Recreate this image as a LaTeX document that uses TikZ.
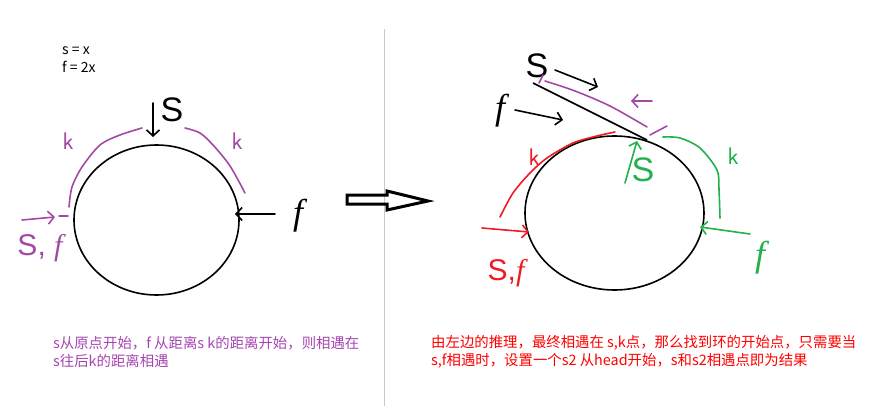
\documentclass[tikz,border=0pt]{standalone}
\usepackage{fontspec}
\setmainfont{Noto Sans CJK SC}
\newfontfamily\handfont{Liberation Sans}
\newfontfamily\curvefont{Liberation Serif}
\usetikzlibrary{shapes.geometric,arrows.meta}
\definecolor{penpurple}{HTML}{A349A4}
\definecolor{penred}{HTML}{ED1C24}
\definecolor{pengreen}{HTML}{22B14C}
\definecolor{notepurple}{HTML}{A545B0}
\definecolor{notered}{HTML}{FF0000}
\definecolor{rulegray}{HTML}{C8C8C8}
\newcommand{\handf}{{\curvefont\itshape f}}
\begin{document}
\begin{tikzpicture}[x=1pt,y=-1pt,
  pen/.style={line width=1.6pt,line cap=round,line join=round},
  barb/.style={-{Straight Barb[length=6pt,width=13pt]}},
  ring/.style={draw,ellipse,line width=1.6pt,inner sep=0pt},
  bigS/.style={font=\handfont\fontsize{34}{34}\selectfont,inner sep=0pt},
  bigf/.style={font=\fontsize{36}{36}\selectfont,inner sep=0pt},
  kmark/.style={font=\sffamily\fontsize{24}{24}\selectfont,inner sep=0pt}]
\useasboundingbox (0,0) rectangle (881,417);
\small
\path[draw,rulegray,line width=1pt] (384,29) -- (384,406);

% left picture
\node[anchor=north west,align=left,inner sep=0pt,font=\fontsize{14}{18}\selectfont] (rule) at (62,47) {s = x\\f = 2x};
\node[ring,minimum width=165,minimum height=150] (loopL) at (156.5,220) {};
\node[bigS] (sL) at (172,110) {S};
\node[bigf] (fL) at (298,216) {\handf};
\node[kmark,penpurple] (k1) at (68,141) {k};
\node[kmark,penpurple] (k2) at (237,141) {k};
\node[penpurple,font=\handfont\fontsize{30}{30}\selectfont,inner sep=0pt] (sfL) at (40,248) {S, \handf};
\coordinate (sTop) at (153,103);
\coordinate (sHit) at (153,137);
\coordinate (fTail) at (275,214);
\coordinate (fHit) at (235,214);
\coordinate (sfTail) at (22,220);
\coordinate (sfHit) at (55,217);

\path[draw,pen,barb] (sTop) -- (sHit);
\path[draw,pen,barb] (fTail) -- (fHit);
\path[draw,pen,barb,penpurple] (sfTail) -- (sfHit);
\path[draw,pen,penpurple] (59,216) -- (68,216);
\path[draw,pen,penpurple] plot[smooth] coordinates {(69,207) (72,187) (82,167) (100,145) (120,135) (142,128)};
\path[draw,pen,penpurple] plot[smooth] coordinates {(185,128) (200,133) (213,145) (228,163) (237,178) (245,193)};

% arrow between
\path[draw,line width=3pt,line join=miter] (347,195) -- (387,195) -- (387,191) -- (428,201) -- (387,210) -- (387,204) -- (347,204) -- cycle;

% right picture
\node[ring,minimum width=179,minimum height=154] (loopR) at (614.5,213) {};
\node[bigS] (sR) at (537,66) {S};
\node[bigf] (fR) at (500,111) {\handf};
\node[kmark,penred] (k3) at (534,157) {k};
\node[kmark,pengreen] (k4) at (733,156) {k};
\node[bigS,pengreen] (s2) at (643,170) {S};
\node[bigf,pengreen] (f2) at (760,258) {\handf};
\node[penred,font=\handfont\fontsize{30}{30}\selectfont,inner sep=0pt] (sfR) at (506,273) {S,\handf};
\coordinate (head) at (533,83);
\coordinate (entry) at (647,140);
\coordinate (sGo) at (555,70);
\coordinate (sTo) at (598,87);
\coordinate (fGo) at (515,110);
\coordinate (fTo) at (563,120);
\coordinate (kBack) at (652,101);
\coordinate (kTip) at (631,101);
\coordinate (sUp) at (625,183);
\coordinate (sIn) at (637,141);
\coordinate (redTail) at (482,228);
\coordinate (redHit) at (529,232);
\coordinate (greenTail) at (750,234);
\coordinate (greenHit) at (700,227);

\path[draw,line width=1.6pt] (head) -- (entry);
\path[draw,pen,barb] (sGo) -- (sTo);
\path[draw,pen,barb] (fGo) -- (fTo);
\path[draw,pen,barb,penpurple] (kBack) -- (kTip);
\path[draw,pen,penpurple] (543,75) -- (539,83);
\path[draw,pen,penpurple] plot[smooth] coordinates {(545,81) (575,91) (610,106) (647,127)};
\path[draw,pen,penpurple] (650,135) -- (667,126);
\path[draw,pen,barb,pengreen] (sUp) -- (sIn);
\path[draw,pen,pengreen] plot[smooth] coordinates {(663,137) (680,138) (700,148) (717,170) (719,190) (720,218)};
\path[draw,pen,penred] plot[smooth] coordinates {(615,132) (597,136) (573,143) (547,158) (530,173) (513,193) (500,217)};
\path[draw,pen,barb,penred] (redTail) -- (redHit);
\path[draw,pen,barb,pengreen] (greenTail) -- (greenHit);

% notes
\node[anchor=north west,align=left,inner sep=0pt,notepurple,font=\fontsize{14.4}{18}\selectfont] (noteL) at (53,336) {s从原点开始，f 从距离s k的距离开始，则相遇在\\s往后k的距离相遇};
\node[anchor=north west,align=left,inner sep=0pt,notered,font=\fontsize{14.4}{18}\selectfont] (noteR) at (431,335) {由左边的推理，最终相遇在 s,k点，那么找到环的开始点，只需要当\\s,f相遇时，设置一个s2 从head开始，s和s2相遇点即为结果};
\end{tikzpicture}
\end{document}
